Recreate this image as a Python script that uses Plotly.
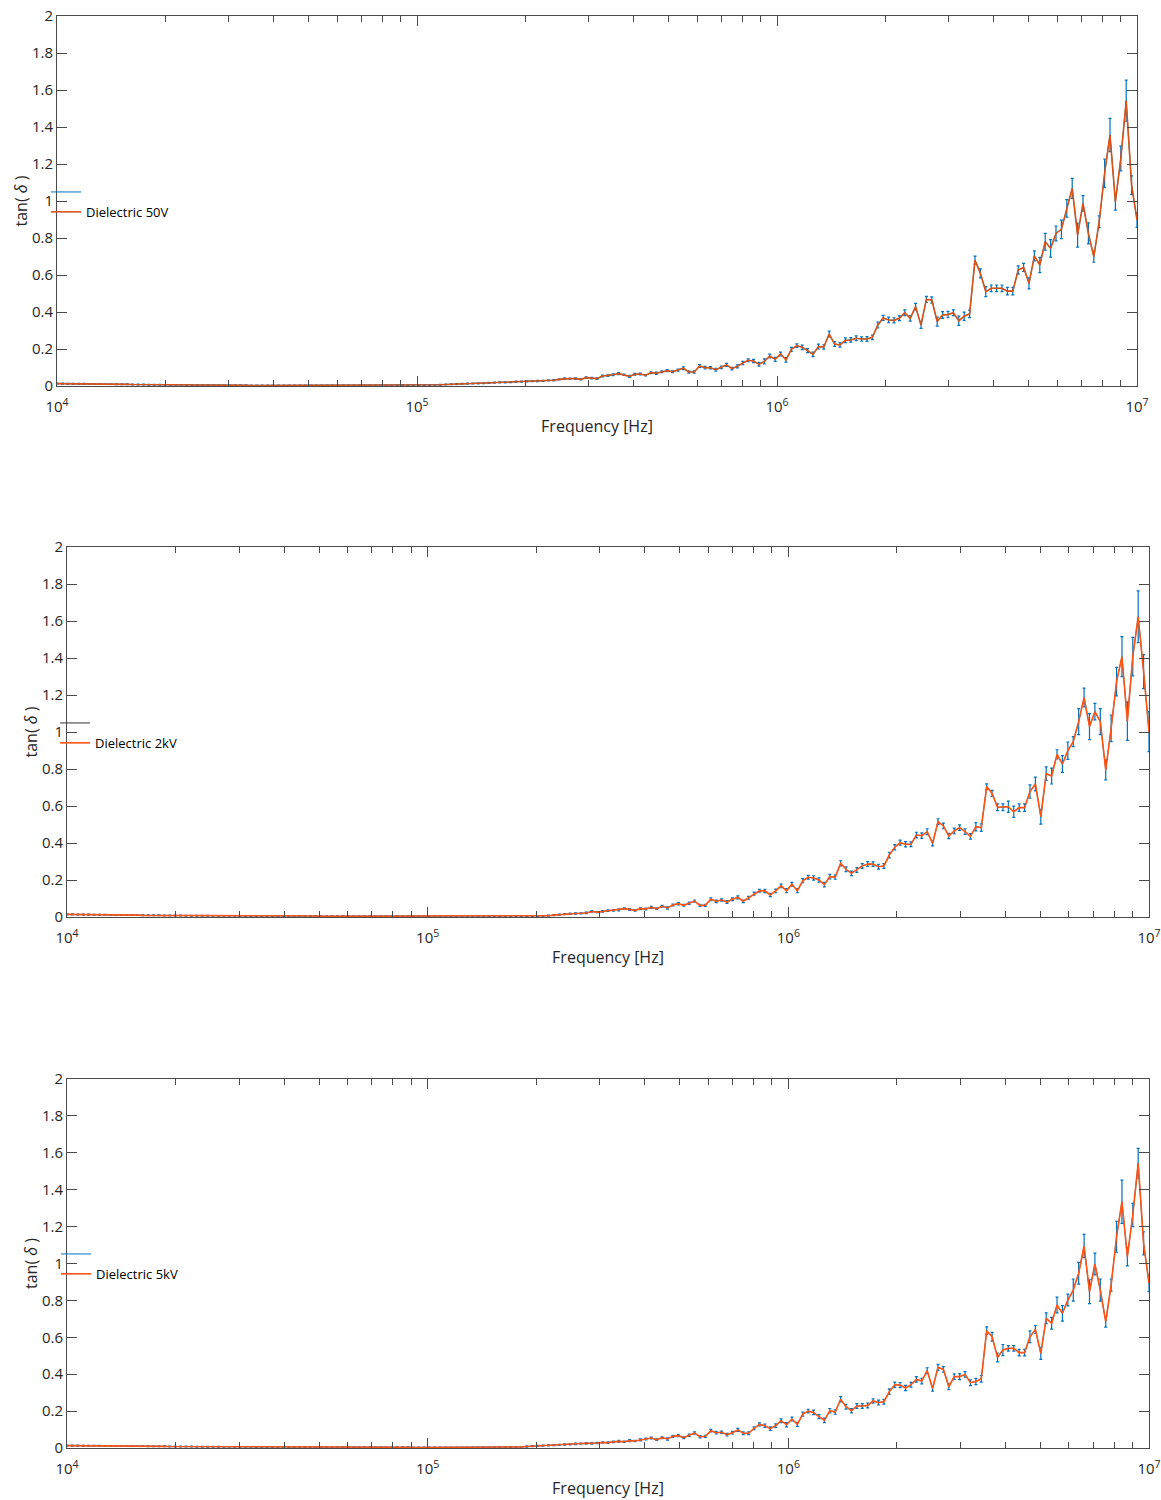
import numpy as np
import plotly.graph_objects as go

# Frequency sweep: 201 log-spaced points from 10 kHz to 10 MHz
F_START, F_STOP, N_POINTS = 1e4, 1e7, 201
FREQ = np.logspace(np.log10(F_START), np.log10(F_STOP), N_POINTS)

LABELS = ["Dielectric 50V", "Dielectric 2kV", "Dielectric 5kV"]

TAN_50V = [
    0.013, 0.013, 0.012, 0.012, 0.012, 0.011, 0.011, 0.011, 0.010, 0.010,
    0.010, 0.009, 0.009, 0.009, 0.008, 0.008, 0.008, 0.007, 0.007, 0.007,
    0.006, 0.006, 0.006, 0.006, 0.005, 0.005, 0.005, 0.005, 0.005, 0.004,
    0.004, 0.004, 0.004, 0.004, 0.004, 0.004, 0.003, 0.003, 0.003, 0.003,
    0.003, 0.003, 0.003, 0.003, 0.003, 0.003, 0.003, 0.003, 0.003, 0.003,
    0.003, 0.003, 0.003, 0.003, 0.003, 0.003, 0.003, 0.003, 0.003, 0.003,
    0.003, 0.003, 0.003, 0.004, 0.004, 0.004, 0.004, 0.005, 0.005, 0.005,
    0.006, 0.007, 0.008, 0.009, 0.010, 0.012, 0.013, 0.014, 0.014, 0.015,
    0.017, 0.018, 0.020, 0.020, 0.021, 0.023, 0.024, 0.025, 0.026, 0.027,
    0.028, 0.030, 0.031, 0.036, 0.040, 0.040, 0.040, 0.036, 0.045, 0.043,
    0.040, 0.054, 0.056, 0.061, 0.067, 0.061, 0.052, 0.063, 0.065, 0.058,
    0.072, 0.069, 0.077, 0.083, 0.077, 0.086, 0.096, 0.076, 0.076, 0.108,
    0.099, 0.099, 0.088, 0.101, 0.114, 0.094, 0.106, 0.124, 0.139, 0.135,
    0.117, 0.133, 0.162, 0.144, 0.173, 0.141, 0.198, 0.218, 0.209, 0.191,
    0.171, 0.213, 0.211, 0.281, 0.227, 0.222, 0.247, 0.249, 0.258, 0.254,
    0.254, 0.263, 0.330, 0.368, 0.357, 0.355, 0.366, 0.396, 0.366, 0.429,
    0.330, 0.468, 0.465, 0.348, 0.384, 0.386, 0.396, 0.353, 0.377, 0.390,
    0.680, 0.609, 0.510, 0.528, 0.528, 0.528, 0.513, 0.513, 0.627, 0.641,
    0.555, 0.703, 0.654, 0.780, 0.744, 0.825, 0.847, 0.960, 1.068, 0.816,
    0.987, 0.825, 0.699, 0.888, 1.150, 1.357, 0.996, 1.230, 1.542, 1.086,
    0.897,
]
ERR_50V = [
    0.003, 0.003, 0.003, 0.003, 0.003, 0.003, 0.002, 0.002, 0.002, 0.002,
    0.002, 0.002, 0.002, 0.002, 0.002, 0.002, 0.002, 0.002, 0.002, 0.002,
    0.002, 0.002, 0.002, 0.002, 0.002, 0.002, 0.002, 0.002, 0.002, 0.002,
    0.002, 0.002, 0.002, 0.002, 0.002, 0.002, 0.002, 0.002, 0.002, 0.002,
    0.002, 0.002, 0.002, 0.002, 0.002, 0.002, 0.002, 0.002, 0.002, 0.002,
    0.002, 0.002, 0.002, 0.002, 0.002, 0.002, 0.002, 0.002, 0.002, 0.002,
    0.002, 0.002, 0.002, 0.002, 0.002, 0.002, 0.002, 0.002, 0.002, 0.002,
    0.002, 0.002, 0.002, 0.002, 0.003, 0.002, 0.003, 0.002, 0.003, 0.002,
    0.003, 0.003, 0.003, 0.003, 0.003, 0.003, 0.003, 0.003, 0.003, 0.003,
    0.003, 0.003, 0.004, 0.003, 0.004, 0.003, 0.004, 0.003, 0.004, 0.004,
    0.004, 0.005, 0.004, 0.005, 0.005, 0.004, 0.006, 0.005, 0.005, 0.004,
    0.005, 0.006, 0.005, 0.006, 0.005, 0.006, 0.007, 0.006, 0.006, 0.008,
    0.007, 0.006, 0.008, 0.007, 0.008, 0.007, 0.008, 0.009, 0.008, 0.009,
    0.010, 0.014, 0.010, 0.011, 0.010, 0.012, 0.011, 0.010, 0.012, 0.011,
    0.012, 0.013, 0.012, 0.016, 0.013, 0.012, 0.013, 0.012, 0.013, 0.012,
    0.013, 0.012, 0.016, 0.014, 0.015, 0.014, 0.013, 0.016, 0.015, 0.018,
    0.018, 0.016, 0.017, 0.024, 0.018, 0.017, 0.016, 0.025, 0.022, 0.020,
    0.022, 0.024, 0.027, 0.018, 0.018, 0.018, 0.020, 0.020, 0.022, 0.022,
    0.030, 0.027, 0.041, 0.045, 0.047, 0.040, 0.050, 0.047, 0.054, 0.065,
    0.042, 0.057, 0.030, 0.032, 0.077, 0.090, 0.045, 0.067, 0.111, 0.050,
    0.040,
]

TAN_2KV = [
    0.014, 0.014, 0.013, 0.013, 0.013, 0.012, 0.012, 0.012, 0.011, 0.011,
    0.011, 0.010, 0.010, 0.010, 0.009, 0.009, 0.009, 0.009, 0.008, 0.008,
    0.008, 0.008, 0.007, 0.007, 0.007, 0.007, 0.007, 0.006, 0.006, 0.006,
    0.006, 0.006, 0.006, 0.005, 0.005, 0.005, 0.005, 0.005, 0.005, 0.005,
    0.005, 0.005, 0.005, 0.005, 0.005, 0.005, 0.005, 0.004, 0.004, 0.004,
    0.004, 0.004, 0.004, 0.004, 0.004, 0.004, 0.004, 0.004, 0.004, 0.004,
    0.004, 0.004, 0.004, 0.004, 0.004, 0.003, 0.003, 0.003, 0.003, 0.003,
    0.003, 0.003, 0.003, 0.003, 0.003, 0.003, 0.003, 0.003, 0.003, 0.003,
    0.003, 0.003, 0.003, 0.003, 0.004, 0.004, 0.004, 0.005, 0.005, 0.007,
    0.010, 0.013, 0.016, 0.018, 0.019, 0.020, 0.022, 0.030, 0.026, 0.030,
    0.034, 0.035, 0.038, 0.045, 0.041, 0.036, 0.045, 0.043, 0.052, 0.045,
    0.058, 0.049, 0.065, 0.072, 0.063, 0.074, 0.086, 0.063, 0.063, 0.096,
    0.085, 0.092, 0.081, 0.096, 0.106, 0.085, 0.104, 0.126, 0.142, 0.141,
    0.119, 0.141, 0.168, 0.142, 0.177, 0.142, 0.196, 0.215, 0.211, 0.200,
    0.175, 0.218, 0.216, 0.290, 0.258, 0.236, 0.254, 0.276, 0.286, 0.286,
    0.272, 0.276, 0.335, 0.377, 0.402, 0.393, 0.393, 0.443, 0.440, 0.461,
    0.398, 0.515, 0.492, 0.438, 0.465, 0.483, 0.462, 0.436, 0.488, 0.483,
    0.705, 0.668, 0.593, 0.593, 0.596, 0.569, 0.591, 0.591, 0.678, 0.719,
    0.542, 0.775, 0.762, 0.879, 0.827, 0.899, 0.948, 1.056, 1.186, 1.029,
    1.110, 1.056, 0.795, 1.020, 1.272, 1.407, 1.059, 1.407, 1.623, 1.326,
    1.002,
]
ERR_2KV = [
    0.003, 0.003, 0.003, 0.003, 0.003, 0.002, 0.002, 0.002, 0.002, 0.002,
    0.002, 0.002, 0.002, 0.002, 0.002, 0.002, 0.002, 0.002, 0.002, 0.002,
    0.002, 0.002, 0.002, 0.002, 0.002, 0.002, 0.002, 0.002, 0.002, 0.002,
    0.002, 0.002, 0.002, 0.002, 0.002, 0.002, 0.002, 0.002, 0.002, 0.002,
    0.002, 0.002, 0.002, 0.002, 0.002, 0.002, 0.002, 0.002, 0.002, 0.002,
    0.002, 0.002, 0.002, 0.002, 0.002, 0.002, 0.002, 0.002, 0.002, 0.002,
    0.002, 0.002, 0.002, 0.002, 0.002, 0.002, 0.002, 0.002, 0.002, 0.002,
    0.002, 0.002, 0.002, 0.002, 0.002, 0.002, 0.002, 0.002, 0.002, 0.002,
    0.002, 0.002, 0.002, 0.002, 0.002, 0.002, 0.002, 0.002, 0.003, 0.003,
    0.003, 0.003, 0.003, 0.003, 0.004, 0.003, 0.004, 0.004, 0.003, 0.004,
    0.004, 0.004, 0.005, 0.004, 0.005, 0.004, 0.005, 0.005, 0.005, 0.004,
    0.005, 0.006, 0.005, 0.006, 0.005, 0.006, 0.006, 0.006, 0.006, 0.007,
    0.007, 0.006, 0.007, 0.007, 0.008, 0.007, 0.008, 0.008, 0.008, 0.009,
    0.009, 0.010, 0.010, 0.011, 0.010, 0.011, 0.011, 0.010, 0.012, 0.011,
    0.012, 0.012, 0.012, 0.014, 0.013, 0.012, 0.013, 0.013, 0.013, 0.012,
    0.013, 0.013, 0.015, 0.014, 0.014, 0.014, 0.013, 0.015, 0.015, 0.016,
    0.014, 0.016, 0.015, 0.014, 0.015, 0.015, 0.015, 0.015, 0.022, 0.020,
    0.015, 0.016, 0.018, 0.018, 0.030, 0.030, 0.020, 0.020, 0.036, 0.037,
    0.040, 0.036, 0.043, 0.025, 0.045, 0.047, 0.027, 0.070, 0.051, 0.070,
    0.045, 0.070, 0.054, 0.072, 0.077, 0.108, 0.104, 0.104, 0.140, 0.092,
    0.108,
]

TAN_5KV = [
    0.013, 0.013, 0.013, 0.012, 0.012, 0.012, 0.012, 0.011, 0.011, 0.011,
    0.011, 0.010, 0.010, 0.010, 0.010, 0.009, 0.009, 0.009, 0.009, 0.008,
    0.008, 0.008, 0.008, 0.008, 0.007, 0.007, 0.007, 0.007, 0.007, 0.006,
    0.006, 0.006, 0.006, 0.006, 0.006, 0.005, 0.005, 0.005, 0.005, 0.005,
    0.005, 0.005, 0.005, 0.005, 0.004, 0.004, 0.004, 0.004, 0.004, 0.004,
    0.004, 0.004, 0.004, 0.004, 0.004, 0.004, 0.004, 0.004, 0.004, 0.004,
    0.004, 0.004, 0.004, 0.004, 0.003, 0.003, 0.003, 0.003, 0.003, 0.003,
    0.003, 0.003, 0.003, 0.003, 0.003, 0.003, 0.003, 0.003, 0.003, 0.004,
    0.004, 0.004, 0.005, 0.005, 0.006, 0.008, 0.010, 0.012, 0.013, 0.014,
    0.016, 0.017, 0.019, 0.020, 0.022, 0.024, 0.025, 0.025, 0.027, 0.030,
    0.029, 0.033, 0.036, 0.034, 0.040, 0.038, 0.044, 0.049, 0.054, 0.045,
    0.056, 0.049, 0.063, 0.067, 0.056, 0.069, 0.081, 0.061, 0.063, 0.094,
    0.083, 0.085, 0.072, 0.083, 0.098, 0.080, 0.080, 0.107, 0.128, 0.121,
    0.105, 0.121, 0.148, 0.126, 0.157, 0.128, 0.184, 0.200, 0.193, 0.170,
    0.150, 0.202, 0.195, 0.264, 0.224, 0.202, 0.228, 0.228, 0.231, 0.255,
    0.246, 0.251, 0.305, 0.343, 0.341, 0.325, 0.343, 0.372, 0.363, 0.419,
    0.323, 0.437, 0.426, 0.332, 0.387, 0.387, 0.399, 0.354, 0.360, 0.375,
    0.636, 0.603, 0.491, 0.531, 0.540, 0.540, 0.517, 0.517, 0.603, 0.643,
    0.513, 0.703, 0.676, 0.775, 0.730, 0.802, 0.856, 0.947, 1.095, 0.847,
    0.997, 0.856, 0.685, 0.883, 1.145, 1.335, 1.037, 1.263, 1.543, 1.109,
    0.893,
]
ERR_5KV = [
    0.003, 0.003, 0.003, 0.003, 0.003, 0.002, 0.002, 0.002, 0.002, 0.002,
    0.002, 0.002, 0.002, 0.002, 0.002, 0.002, 0.002, 0.002, 0.002, 0.002,
    0.002, 0.002, 0.002, 0.002, 0.002, 0.002, 0.002, 0.002, 0.002, 0.002,
    0.002, 0.002, 0.002, 0.002, 0.002, 0.002, 0.002, 0.002, 0.002, 0.002,
    0.002, 0.002, 0.002, 0.002, 0.002, 0.002, 0.002, 0.002, 0.002, 0.002,
    0.002, 0.002, 0.002, 0.002, 0.002, 0.002, 0.002, 0.002, 0.002, 0.002,
    0.002, 0.002, 0.002, 0.002, 0.002, 0.002, 0.002, 0.002, 0.002, 0.002,
    0.002, 0.002, 0.002, 0.002, 0.002, 0.002, 0.002, 0.002, 0.002, 0.002,
    0.002, 0.002, 0.002, 0.002, 0.002, 0.003, 0.003, 0.003, 0.003, 0.003,
    0.003, 0.003, 0.003, 0.003, 0.004, 0.003, 0.004, 0.004, 0.003, 0.004,
    0.004, 0.004, 0.005, 0.004, 0.005, 0.004, 0.005, 0.005, 0.005, 0.004,
    0.005, 0.006, 0.005, 0.006, 0.005, 0.006, 0.006, 0.006, 0.006, 0.007,
    0.007, 0.006, 0.007, 0.007, 0.008, 0.007, 0.008, 0.008, 0.008, 0.009,
    0.009, 0.010, 0.010, 0.011, 0.010, 0.011, 0.011, 0.010, 0.012, 0.011,
    0.012, 0.012, 0.012, 0.014, 0.013, 0.012, 0.013, 0.013, 0.013, 0.012,
    0.013, 0.013, 0.015, 0.014, 0.014, 0.014, 0.013, 0.015, 0.015, 0.016,
    0.015, 0.016, 0.015, 0.016, 0.015, 0.016, 0.015, 0.016, 0.017, 0.018,
    0.020, 0.024, 0.024, 0.030, 0.015, 0.015, 0.018, 0.018, 0.032, 0.021,
    0.033, 0.029, 0.032, 0.043, 0.042, 0.032, 0.060, 0.059, 0.063, 0.065,
    0.059, 0.060, 0.030, 0.033, 0.084, 0.117, 0.050, 0.063, 0.081, 0.063,
    0.045,
]

SERIES = [TAN_50V, TAN_2KV, TAN_5KV]
ERRORS = [ERR_50V, ERR_2KV, ERR_5KV]
LINE_COLORS = ["#D95319", "#FF5414", "#FF5414"]
LEGEND_ERR_COLORS = ["#0072BD", "#333333", "#0072BD"]
ERR_COLOR = "#0072BD"

X_TICKS = [1e4, 1e5, 1e6, 1e7]
X_TICKTEXT = ["10<sup>4</sup>", "10<sup>5</sup>", "10<sup>6</sup>", "10<sup>7</sup>"]
X_MINOR = [m * 10 ** e for e in (4, 5, 6) for m in range(2, 10)]
Y_TICKS = [0, 0.2, 0.4, 0.6, 0.8, 1.0, 1.2, 1.4, 1.6, 1.8, 2.0]
Y_TICKTEXT = ["0", "0.2", "0.4", "0.6", "0.8", "1", "1.2", "1.4", "1.6", "1.8", "2"]

W, H = 1161, 1500
# panel boxes in pixels: (left, right, top, bottom)
BOXES = [(57, 1137, 16, 386), (67, 1149, 547, 917), (67, 1149, 1079, 1448)]
LEGEND_POS = [(46, 177), (55, 708), (56, 1239)]

FONT = "Open Sans, Lato, Arial, sans-serif"
TXT = "#262626"
AX = "#4a4a4a"

fig = go.Figure()
layout = dict(
    width=W, height=H, margin=dict(l=0, r=0, t=0, b=0),
    paper_bgcolor="white", plot_bgcolor="white",
    font=dict(family=FONT, size=14, color=TXT),
)

for k in range(3):
    sfx = "" if k == 0 else str(k + 1)
    xa, ya = "x" + sfx, "y" + sfx
    lg = "legend" + sfx
    # error bars (blue) underneath
    fig.add_trace(go.Scatter(
        x=FREQ, y=SERIES[k], xaxis=xa, yaxis=ya, mode="lines",
        line=dict(color=ERR_COLOR, width=1),
        error_y=dict(type="data", array=ERRORS[k], visible=True,
                     color=ERR_COLOR, thickness=1.2, width=1.5),
        showlegend=False, hoverinfo="skip",
    ))
    # legend entry for the error-bar series
    fig.add_trace(go.Scatter(
        x=[None], y=[None], xaxis=xa, yaxis=ya, mode="lines",
        line=dict(color=LEGEND_ERR_COLORS[k], width=1),
        name=" ", legend=lg,
    ))
    # measured line
    fig.add_trace(go.Scatter(
        x=FREQ, y=SERIES[k], xaxis=xa, yaxis=ya, mode="lines",
        line=dict(color=LINE_COLORS[k], width=1.6),
        name=LABELS[k], legend=lg,
    ))

    l, r, t, b = BOXES[k]
    layout["xaxis" + sfx] = dict(
        type="log", range=[4, 7], domain=[l / W, r / W], anchor=ya,
        tickvals=X_TICKS, ticktext=X_TICKTEXT,
        ticks="inside", ticklen=10, tickcolor=AX, tickwidth=1,
        minor=dict(tickvals=X_MINOR, ticks="inside", ticklen=6,
                   tickcolor=AX, tickwidth=1, showgrid=False),
        showline=True, linecolor=AX, linewidth=1, mirror="ticks",
        showgrid=False, zeroline=False,
        tickfont=dict(size=15, color=TXT), ticklabelstandoff=7,
        title=dict(text="Frequency [Hz]", font=dict(size=16, color=TXT), standoff=5),
        automargin=False,
    )
    layout["yaxis" + sfx] = dict(
        range=[0, 2], domain=[1 - b / H, 1 - t / H], anchor=xa,
        tickvals=Y_TICKS, ticktext=Y_TICKTEXT,
        ticks="inside", ticklen=10, tickcolor=AX, tickwidth=1,
        showline=True, linecolor=AX, linewidth=1, mirror="ticks",
        showgrid=False, zeroline=False,
        tickfont=dict(size=15, color=TXT),
        title=dict(text="tan( <i>δ</i> )", font=dict(size=16, color=TXT), standoff=0),
        automargin=False,
    )
    lx, ly = LEGEND_POS[k]
    layout[lg] = dict(
        x=lx / W, y=1 - ly / H, xanchor="left", yanchor="top",
        bgcolor="rgba(0,0,0,0)", borderwidth=0,
        font=dict(size=13, color="#000000"), tracegroupgap=0,
        itemwidth=30,
    )

fig.update_layout(**layout)
fig.write_html("out.html")
